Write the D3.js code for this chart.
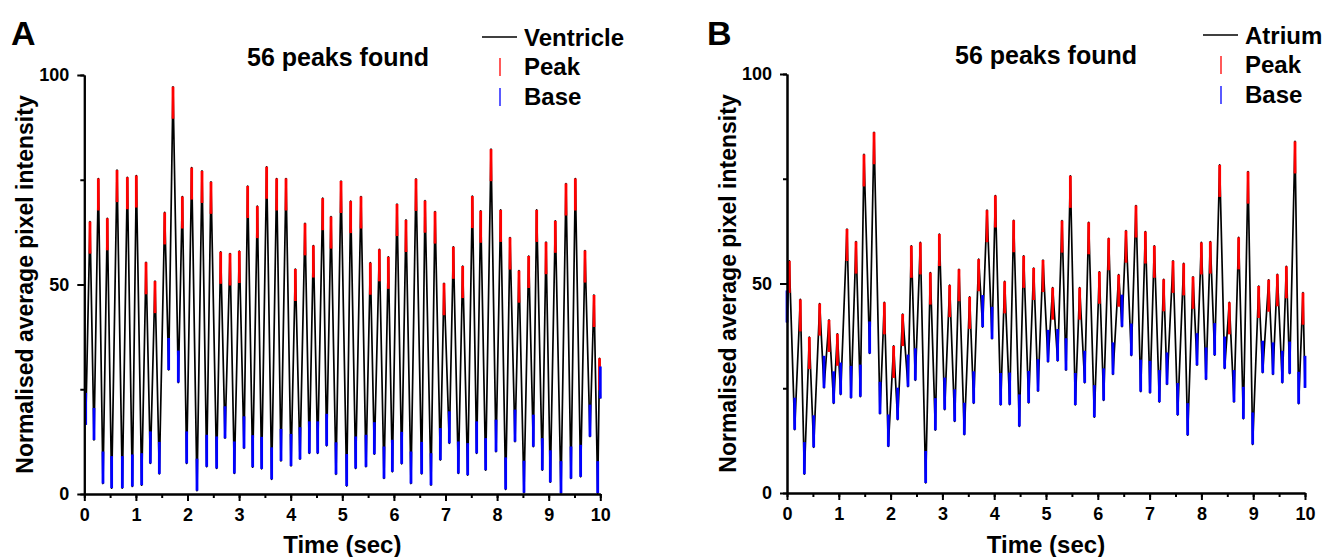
<!DOCTYPE html>
<html><head><meta charset="utf-8">
<script src="https://cdn.jsdelivr.net/npm/d3@7/dist/d3.min.js"></script>
<style>
body{margin:0;background:#fff;}
text{font-family:"Liberation Sans",Arial,sans-serif;font-weight:bold;fill:#000;}
</style>
</head><body>
<svg id="chart" width="1335" height="557"></svg>
<script>
// ---------- data ----------
const timeTicks = [0,1,2,3,4,5,6,7,8,9,10];
const timeMinorTicks = d3.range(0, 10.01, 0.5);
const intensityTicks = [0,50,100];
const intensityMinorTicks = [0,25,50,75,100];

const ventriclePeakTimes = [0.110,0.272,0.446,0.634,0.834,1.008,1.196,1.370,1.558,1.719,1.900,2.081,2.281,
 2.455,2.643,2.824,3.004,3.166,3.353,3.534,3.728,3.909,4.090,4.277,4.439,4.620,4.781,
 4.975,5.162,5.362,5.543,5.718,5.892,6.060,6.234,6.428,6.603,6.797,6.971,7.152,7.333,
 7.520,7.682,7.882,8.069,8.250,8.424,8.612,8.767,8.948,9.128,9.335,9.516,9.703,9.878,9.985];
const ventriclePeakValues = [65.0,75.3,65.8,77.3,75.6,76.0,55.3,50.8,67.2,97.2,71.0,77.9,77.1,
 74.5,57.8,57.4,58.0,73.5,68.7,78.1,75.3,75.3,53.7,64.6,59.3,70.6,66.2,
 74.7,69.9,71.0,55.2,58.4,56.6,69.2,65.4,75.2,70.0,67.4,50.3,59.0,54.4,
 71.1,67.6,82.3,67.8,61.2,53.3,56.8,67.8,60.1,65.2,74.1,75.3,58.1,47.5,32.4];
const ventricleBaseTimes = [0.027,0.188,0.362,0.530,0.737,0.931,1.112,1.280,1.454,1.635,1.822,1.984,2.184,2.372,
 2.565,2.727,2.908,3.095,3.263,3.437,3.631,3.812,4.006,4.180,4.361,4.523,4.697,4.878,
 5.085,5.259,5.459,5.621,5.808,5.970,6.151,6.331,6.538,6.719,6.900,7.074,7.249,7.430,
 7.604,7.778,7.979,8.166,8.347,8.521,8.702,8.876,9.031,9.238,9.432,9.619,9.800,9.950,10.0];
const ventricleBaseValues = [16.5,12.9,2.5,1.4,1.4,1.8,2.1,7.3,4.8,29.6,26.6,7.3,0.8,6.5,
 6.1,13.3,4.9,10.9,6.4,6.0,3.5,7.9,6.7,8.3,9.7,9.7,11.5,4.7,
 1.9,6.1,6.5,9.5,3.7,5.3,7.2,2.5,4.8,2.1,8.1,12.1,4.9,4.5,
 9.7,5.7,10.1,1.1,12.5,0.3,11.3,5.7,2.8,0.2,3.7,4.1,13.7,0.2,22.8];

const atriumPeakTimes = [0.045,0.257,0.431,0.631,0.811,0.972,1.158,1.332,1.486,1.680,1.879,2.059,2.233,2.400,
 2.574,2.767,2.941,3.140,3.320,3.526,3.700,3.861,4.022,4.202,4.376,4.569,4.762,4.942,
 5.129,5.309,5.470,5.650,5.824,6.030,6.210,6.403,6.544,6.737,6.918,7.091,7.272,7.452,
 7.658,7.838,7.999,8.172,8.353,8.539,8.719,8.900,9.106,9.299,9.466,9.640,9.807,9.961];
const atriumPeakValues = [55.4,46.2,37.2,45.2,41.3,38.0,63.0,60.0,80.8,86.1,45.5,35.1,42.7,59.0,
 59.8,52.6,61.8,49.6,53.4,46.8,55.8,67.5,71.0,50.5,65.1,56.6,53.7,55.6,
 49.0,65.0,75.7,49.0,64.6,52.8,60.8,52.1,62.6,68.6,62.4,59.0,51.0,55.4,
 54.8,51.6,59.8,60.0,78.3,45.5,61.0,76.7,49.4,50.9,52.2,54.1,83.9,47.8];
const atriumBaseTimes = [0.0,0.148,0.335,0.515,0.714,0.901,1.036,1.236,1.416,1.596,1.795,1.956,2.136,2.336,2.477,
 2.677,2.864,3.044,3.237,3.423,3.604,3.777,3.958,4.125,4.299,4.485,4.665,4.846,
 5.039,5.225,5.386,5.566,5.747,5.933,6.113,6.293,6.467,6.647,6.828,7.008,7.188,7.336,
 7.542,7.735,7.915,8.089,8.256,8.449,8.629,8.810,8.990,9.183,9.382,9.562,9.704,9.878,10.0];
const atriumBaseValues = [40.7,15.1,4.5,10.9,25.1,21.4,23.5,22.7,23.0,33.3,18.9,11.1,17.5,25.4,26.9,
 2.4,15.0,19.9,17.1,13.9,21.4,39.6,36.8,21.0,21.1,15.9,21.5,24.3,
 31.3,31.5,29.3,21.0,26.3,18.1,22.1,28.3,39.7,32.8,24.2,23.9,21.7,25.9,
 18.6,13.8,30.5,27.1,32.9,29.7,21.7,17.7,11.6,28.7,28.3,26.3,28.5,21.3,25.1];

const panelLetters = ["A","B"];
const seriesNames = ["Ventricle","Atrium"];
const peakCountText = "56 peaks found";
const xTitle = "Time (sec)";
const yTitle = "Normalised average pixel intensity";

// ---------- drawing ----------
const svg = d3.select("#chart");
const MARK = 32; // marker length, px

function drawPanel(o){
  const g = svg.append("g");
  const x = d3.scaleLinear().domain([0,10]).range([o.x0,o.x1]);
  const y = d3.scaleLinear().domain([0,100]).range([o.y0,o.y1]);

  const peaks = o.pt.map((t,i)=>({t, v:o.pv[i]}));
  const bases = o.bt.map((t,i)=>({t, v:o.bv[i]}));
  const pts = peaks.concat(bases).sort((a,b)=>a.t-b.t);

  g.append("path").datum(pts)
    .attr("fill","none").attr("stroke","#000").attr("stroke-width",1.7)
    .attr("stroke-linejoin","round")
    .attr("d", d3.line().x(d=>x(d.t)).y(d=>y(d.v)));

  g.selectAll(".pk").data(peaks).enter().append("line")
    .attr("x1",d=>x(d.t)).attr("x2",d=>x(d.t))
    .attr("y1",d=>y(d.v)).attr("y2",d=>y(d.v)+MARK)
    .attr("stroke","#ff0000").attr("stroke-width",2.8);
  g.selectAll(".bs").data(bases).enter().append("line")
    .attr("x1",d=>x(d.t)).attr("x2",d=>x(d.t))
    .attr("y1",d=>y(d.v)).attr("y2",d=>y(d.v)-MARK)
    .attr("stroke","#0000ff").attr("stroke-width",2.8);

  // axes
  const xa = g.append("g").attr("transform",`translate(0,${o.y0})`)
    .call(d3.axisBottom(x).tickValues(timeTicks).tickSize(7).tickSizeOuter(0).tickPadding(7).tickFormat(d3.format("d")));
  const xm = g.append("g").attr("transform",`translate(0,${o.y0})`)
    .call(d3.axisBottom(x).tickValues(timeMinorTicks).tickSize(4).tickSizeOuter(0).tickFormat(""));
  const ya = g.append("g").attr("transform",`translate(${o.x0},0)`)
    .call(d3.axisLeft(y).tickValues(intensityTicks).tickSize(7).tickSizeOuter(0).tickPadding(8));
  const ym = g.append("g").attr("transform",`translate(${o.x0},0)`)
    .call(d3.axisLeft(y).tickValues(intensityMinorTicks).tickSize(4).tickSizeOuter(0).tickFormat(""));
  [xa,xm,ya,ym].forEach(a=>{
    a.selectAll("path").attr("stroke","#000").attr("stroke-width",2);
    a.selectAll("line").attr("stroke","#000").attr("stroke-width",2);
    a.selectAll("text").style("font-family","'Liberation Sans',Arial,sans-serif")
      .style("font-weight","bold").style("font-size","18px").attr("fill","#000");
  });

  g.append("text").attr("x",(o.x0+o.x1)/2).attr("y",553).attr("text-anchor","middle")
    .style("font-size","24px").text(xTitle);
  g.append("text").attr("transform",`translate(${o.x0-51},${(o.y0+o.y1)/2}) rotate(-90)`)
    .attr("text-anchor","middle").style("font-size","23px").text(yTitle);

  g.append("text").attr("x",o.letterX).attr("y",45).style("font-size","34px").text(o.letter);
  g.append("text").attr("x",o.titleX).attr("y",o.titleY).attr("text-anchor","middle")
    .style("font-size","25px").text(peakCountText);

  // legend
  const lx = o.legX, ly = o.legY;
  g.append("line").attr("x1",lx-18).attr("x2",lx+17).attr("y1",ly).attr("y2",ly)
    .attr("stroke","#000").attr("stroke-width",1.6);
  g.append("text").attr("x",lx+24).attr("y",ly+9).style("font-size","24px").text(o.name);
  g.append("line").attr("x1",lx).attr("x2",lx).attr("y1",ly+21).attr("y2",ly+39)
    .attr("stroke","#ff0000").attr("stroke-width",1.3);
  g.append("text").attr("x",lx+24).attr("y",ly+38).style("font-size","24px").text("Peak");
  g.append("line").attr("x1",lx).attr("x2",lx).attr("y1",ly+51).attr("y2",ly+69)
    .attr("stroke","#0000ff").attr("stroke-width",1.3);
  g.append("text").attr("x",lx+24).attr("y",ly+68).style("font-size","24px").text("Base");
}

drawPanel({x0:84.3,x1:600.3,y0:494,y1:75,pt:ventriclePeakTimes,pv:ventriclePeakValues,
  bt:ventricleBaseTimes,bv:ventricleBaseValues,letter:panelLetters[0],letterX:11,
  titleX:338,titleY:66,legX:500,legY:37,name:seriesNames[0]});
drawPanel({x0:787,x1:1305,y0:493,y1:74,pt:atriumPeakTimes,pv:atriumPeakValues,
  bt:atriumBaseTimes,bv:atriumBaseValues,letter:panelLetters[1],letterX:707,
  titleX:1046,titleY:64,legX:1221,legY:35,name:seriesNames[1]});
</script>
</body></html>
